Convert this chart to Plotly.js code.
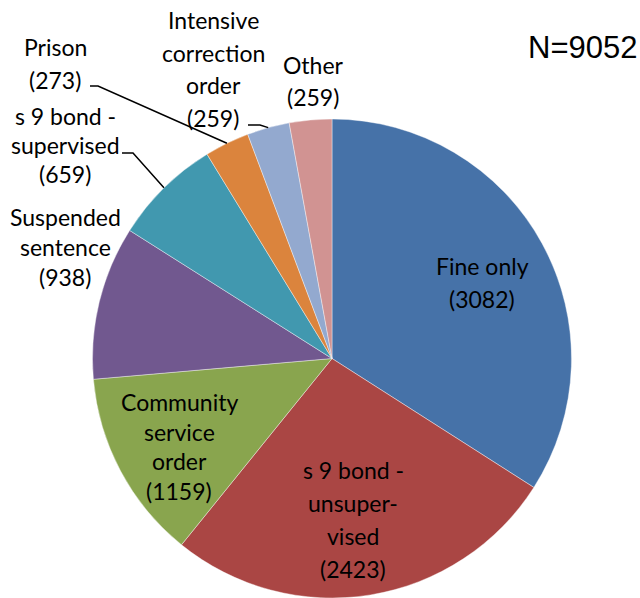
<!DOCTYPE html>
<html>
<head>
<meta charset="utf-8">
<script src="https://cdn.plot.ly/plotly-3.0.1.min.js"></script>
<style>
  html, body { margin: 0; padding: 0; background: #fff; }
  #chart { width: 640px; height: 598px; }
</style>
</head>
<body>
<div id="chart"></div>
<script>
// Sentence outcomes, clockwise from 12 o'clock
const categories = [
  "Fine only",
  "s 9 bond - unsupervised",
  "Community service order",
  "Suspended sentence",
  "s 9 bond - supervised",
  "Prison",
  "Intensive correction order",
  "Other",
];
const counts = [3082, 2423, 1159, 938, 659, 273, 259, 259];
const totalLabel = "N=9052";

// How each category name is broken over lines in its label
const nameLines = [
  ["Fine only"],
  ["s 9 bond -", "unsuper-", "vised"],
  ["Community", "service", "order"],
  ["Suspended", "sentence"],
  ["s 9 bond -", "supervised"],
  ["Prison"],
  ["Intensive", "correction", "order"],
  ["Other"],
];

const sliceColors = [
  "#4672a8", "#aa4644", "#89a54e", "#71588f",
  "#4198af", "#db843d", "#93a9cf", "#d19392",
];

/* ---------- layout constants (pixels) ---------- */
const W = 640;
const H = 598;
const pieDomain = { x: [92 / W, 572 / W], y: [0, 479 / H] };
const pieCx = 332;
const pieCy = H - 479 / 2;
const pieR = 479 / 2;

// label block placement: centre x, first line y, line spacing
const labelPos = [
  { x: 482, y: 266, dy: 33 },
  { x: 353, y: 470, dy: 33 },
  { x: 179, y: 402, dy: 29.5 },
  { x: 65, y: 217, dy: 30 },
  { x: 65, y: 116, dy: 29 },
  { x: 55, y: 47, dy: 33 },
  { x: 213, y: 20, dy: 32.5 },
  { x: 313, y: 65, dy: 32 },
];

// leader lines: start near the label, elbow, then run to slice middle on the rim
const leaders = [
  { idx: 4, start: [122, 153], elbow: [133, 153] },
  { idx: 5, start: [90, 86], elbow: [98, 86] },
  { idx: 6, start: [248, 125], elbow: [260, 125] },
];

const px = (x) => x / W;
const py = (y) => 1 - y / H;

function sliceMidOnRim(i) {
  const total = counts.reduce((s, v) => s + v, 0);
  const before = counts.slice(0, i).reduce((s, v) => s + v, 0);
  const ang = ((before + counts[i] / 2) / total) * 2 * Math.PI;
  return [pieCx + pieR * Math.sin(ang), pieCy - pieR * Math.cos(ang)];
}

const labelFont = { family: "Lato, sans-serif", size: 23, color: "#000" };

const annotations = [];
categories.forEach((cat, i) => {
  const lines = nameLines[i].concat(["(" + counts[i] + ")"]);
  const pos = labelPos[i];
  lines.forEach((t, k) => {
    annotations.push({
      xref: "paper",
      yref: "paper",
      x: px(pos.x),
      y: py(pos.y + k * pos.dy),
      xanchor: "center",
      yanchor: "middle",
      text: t,
      showarrow: false,
      font: labelFont,
    });
  });
});

annotations.push({
  xref: "paper",
  yref: "paper",
  x: px(582),
  y: py(47),
  xanchor: "center",
  yanchor: "middle",
  text: totalLabel,
  showarrow: false,
  font: { family: "Liberation Sans, Arial, sans-serif", size: 31, color: "#000" },
});

const shapes = leaders.map((l) => {
  const end = sliceMidOnRim(l.idx);
  return {
    type: "path",
    xref: "paper",
    yref: "paper",
    path:
      "M " + px(l.start[0]) + " " + py(l.start[1]) +
      " L " + px(l.elbow[0]) + " " + py(l.elbow[1]) +
      " L " + px(end[0]) + " " + py(end[1]),
    line: { color: "#000", width: 1.5 },
  };
});

const trace = {
  type: "pie",
  labels: categories,
  values: counts,
  sort: false,
  direction: "clockwise",
  rotation: 0,
  textinfo: "none",
  hoverinfo: "label+value",
  marker: { colors: sliceColors, line: { color: "#ffffff", width: 0.4 } },
  domain: pieDomain,
  showlegend: false,
};

const layout = {
  width: W,
  height: H,
  margin: { t: 0, r: 0, b: 0, l: 0 },
  paper_bgcolor: "#ffffff",
  showlegend: false,
  annotations: annotations,
  shapes: shapes,
};

Plotly.newPlot("chart", [trace], layout, { staticPlot: true });
</script>
</body>
</html>
